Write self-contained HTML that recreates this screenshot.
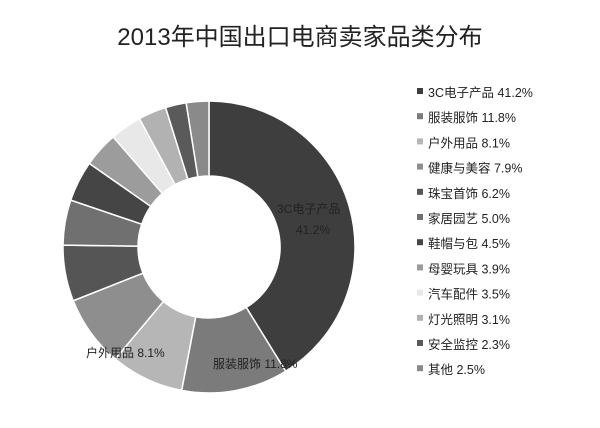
<!DOCTYPE html>
<html><head><meta charset="utf-8">
<style>
body{margin:0;background:#fff;}
#wrap{position:relative;width:600px;height:428px;background:#fff;overflow:hidden;font-family:"Liberation Sans","Noto Sans CJK SC",sans-serif;}
</style></head>
<body>
<div id="wrap">
<svg id="chart" width="600" height="428">
<text x="300" y="45" text-anchor="middle" font-size="24" fill="#222" font-family="Liberation Sans, Noto Sans CJK SC, sans-serif">2013年中国出口电商卖家品类分布</text>
</svg>
</div>
<script>
const categories=["3C电子产品","服装服饰","户外用品","健康与美容","珠宝首饰","家居园艺","鞋帽与包","母婴玩具","汽车配件","灯光照明","安全监控","其他"];
const values=[41.2,11.8,8.1,7.9,6.2,5.0,4.5,3.9,3.5,3.1,2.3,2.5];
const colors=["#3e3e3e","#7b7b7b","#b6b6b6","#8e8e8e","#555555","#707070","#454545","#9c9c9c","#e8e8e8","#b2b2b2","#5a5a5a","#8a8a8a"];
const NS="http://www.w3.org/2000/svg";
const svg=document.getElementById('chart');
const cx=209,cy=247,R=146,r=71;
const total=values.reduce((a,b)=>a+b,0);
function pt(rad,ang){return [cx+rad*Math.sin(ang),cy-rad*Math.cos(ang)];}
let a0=0;
const g=document.createElementNS(NS,'g');


svg.appendChild(g);
values.forEach((v,i)=>{
  const a1=a0+v/total*2*Math.PI;
  const large=(a1-a0)>Math.PI?1:0;
  const [x1,y1]=pt(R,a0),[x2,y2]=pt(R,a1),[x3,y3]=pt(r,a1),[x4,y4]=pt(r,a0);
  const p=document.createElementNS(NS,'path');
  p.setAttribute('d',`M${x1},${y1}A${R},${R} 0 ${large} 1 ${x2},${y2}L${x3},${y3}A${r},${r} 0 ${large} 0 ${x4},${y4}Z`);
  p.setAttribute('fill',colors[i]);
  p.setAttribute('stroke','#fff');
  p.setAttribute('stroke-width','1.5');
  
  
  g.appendChild(p);
  a0=a1;
});
function txt(x,y,s,size,name,anchor){
  const t=document.createElementNS(NS,'text');
  t.setAttribute('x',x);t.setAttribute('y',y);
  t.setAttribute('font-size',size);t.setAttribute('fill','#222');
  if(anchor)t.setAttribute('text-anchor',anchor);
  t.textContent=s;
  
  
  svg.appendChild(t);
}
txt(277,213,categories[0],12,'slice-label-3c');
txt(296,234,values[0].toFixed(1)+'%',12,'slice-value-3c');
txt(86,357,categories[2]+'  '+values[2].toFixed(1)+'%',12,'slice-label-outdoor');
txt(213,368,categories[1]+'  '+values[1].toFixed(1)+'%',12,'slice-label-apparel');
categories.forEach((c,i)=>{
  const y=92+i*25.2;
  const s=document.createElementNS(NS,'rect');
  s.setAttribute('x',417);s.setAttribute('y',y-4);
  s.setAttribute('width',6);s.setAttribute('height',6);
  s.setAttribute('fill',colors[i]);
  
  
  svg.appendChild(s);
  txt(428,y+5,c+'  '+values[i].toFixed(1)+'%',12.5,'legend-entry-'+(i+1));
});
</script>
</body></html>
